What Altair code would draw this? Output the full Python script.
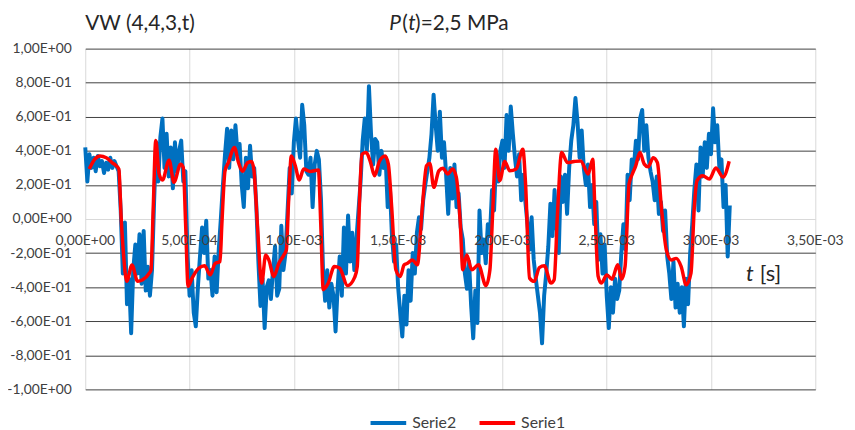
import altair as alt
import pandas as pd

# ---------------- data ----------------
# Serie1 (red): time in ms, value
T1_MS = [0.019, 0.045, 0.070, 0.101, 0.130, 0.149, 0.161, 0.172, 0.183, 0.199,
         0.224, 0.251, 0.275, 0.307, 0.315, 0.326, 0.338, 0.354, 0.370, 0.402,
         0.425, 0.457, 0.470, 0.481, 0.493, 0.512, 0.544, 0.572, 0.599, 0.623,
         0.646, 0.655, 0.670, 0.686, 0.715, 0.735, 0.754, 0.778, 0.798, 0.809,
         0.825, 0.846, 0.865, 0.880, 0.904, 0.928, 0.952, 0.964, 0.975, 0.988,
         1.007, 1.026, 1.047, 1.078, 1.118, 1.129, 1.141, 1.165, 1.194, 1.220,
         1.257, 1.292, 1.304, 1.315, 1.326, 1.347, 1.368, 1.387, 1.410, 1.437,
         1.453, 1.469, 1.489, 1.510, 1.529, 1.545, 1.568, 1.592, 1.616, 1.636,
         1.652, 1.671, 1.695, 1.715, 1.738, 1.761, 1.779, 1.798, 1.810, 1.829,
         1.853, 1.885, 1.921, 1.940, 1.953, 1.968, 1.987, 2.011, 2.035, 2.066,
         2.098, 2.111, 2.130, 2.153, 2.177, 2.201, 2.233, 2.248, 2.264, 2.284,
         2.312, 2.343, 2.375, 2.411, 2.433, 2.443, 2.459, 2.474, 2.501, 2.525,
         2.553, 2.572, 2.588, 2.607, 2.623, 2.639, 2.659, 2.680, 2.699, 2.723,
         2.743, 2.762, 2.786, 2.810, 2.833, 2.857, 2.881, 2.904, 2.920, 2.933,
         2.960, 2.992, 3.023, 3.058, 3.087]
V1 = [0.293, 0.350, 0.370, 0.360, 0.330, 0.312, 0.293, 0.010, -0.200, -0.366,
      -0.270, -0.366, -0.357, -0.318, -0.300, 0.070, 0.461, 0.264, 0.229, 0.345,
      0.215, 0.322, 0.302, -0.027, -0.395, -0.347, -0.289, -0.275, -0.328, -0.260,
      -0.250, -0.027, 0.283, 0.331, 0.420, 0.330, 0.280, 0.330, 0.337, 0.283,
      -0.027, -0.376, -0.211, -0.240, -0.337, -0.260, -0.211, -0.182, 0.109, 0.370,
      0.312, 0.229, 0.293, 0.279, 0.287, -0.027, -0.415, -0.376, -0.279, -0.289,
      -0.391, -0.341, -0.279, 0.109, 0.380, 0.390, 0.331, 0.254, 0.337, 0.370,
      0.322, 0.070, -0.298, -0.337, -0.269, -0.260, -0.240, -0.269, 0.070, 0.312,
      0.326, 0.186, 0.283, 0.298, 0.264, 0.293, 0.244, -0.027, -0.298, -0.211,
      -0.298, -0.269, -0.391, -0.298, 0.031, 0.409, 0.225, 0.337, 0.283, 0.293,
      0.409, 0.205, -0.347, -0.366, -0.285, -0.275, -0.376, -0.357, 0.031, 0.390,
      0.331, 0.337, 0.341, 0.264, 0.351, 0.070, -0.337, -0.376, -0.328, -0.353,
      -0.269, -0.353, -0.279, 0.205, 0.264, 0.312, 0.390, 0.322, 0.306, 0.360,
      0.331, 0.070, -0.182, -0.240, -0.231, -0.279, -0.386, -0.318, 0.070, 0.225,
      0.254, 0.234, 0.300, 0.246, 0.339]

# Serie2 (blue): sampled every 0.01 ms from t = 0
V2 = [
    0.42, 0.22, 0.38, 0.30, 0.36, 0.28, 0.37, 0.31, 0.34, 0.27,
    0.33, 0.29, 0.36, 0.30, 0.34, 0.31, 0.28, 0.05, -0.32, -0.02,
    -0.50, -0.35, -0.67, -0.30, -0.15, -0.32, -0.09, -0.38, -0.07, -0.42,
    -0.28, -0.45, -0.30, 0.10, 0.45, 0.22, 0.48, 0.59, 0.30, 0.50,
    0.25, 0.42, 0.18, 0.45, 0.28, 0.40, 0.46, 0.22, 0.28, -0.20,
    -0.45, -0.30, -0.55, -0.63, -0.40, -0.22, -0.05, -0.20, -0.01, -0.35,
    -0.30, -0.45, -0.22, -0.43, -0.18, 0.00, 0.20, 0.38, 0.53, 0.30,
    0.52, 0.35, 0.55, 0.38, 0.44, 0.20, 0.07, 0.36, 0.18, 0.43,
    0.25, 0.30, 0.08, -0.25, -0.51, -0.35, -0.64, -0.40, -0.36, -0.47,
    -0.30, -0.16, -0.45, -0.41, -0.04, -0.30, -0.20, 0.05, 0.30, 0.15,
    0.45, 0.59, 0.46, 0.36, 0.67, 0.55, 0.28, 0.26, 0.36, 0.07,
    0.32, 0.40, 0.35, 0.12, -0.30, -0.48, -0.30, -0.52, -0.38, -0.45,
    -0.66, -0.40, -0.22, -0.45, -0.05, -0.32, 0.02, -0.25, -0.08, -0.30,
    -0.12, 0.05, 0.22, 0.46, 0.59, 0.40, 0.78, 0.50, 0.32, 0.47,
    0.45, 0.26, 0.40, 0.30, 0.36, 0.07, 0.20, -0.09, -0.25, -0.15,
    -0.40, -0.55, -0.69, -0.45, -0.62, -0.30, -0.48, -0.20, -0.32, -0.08,
    0.01, -0.06, 0.11, 0.20, 0.28, 0.36, 0.50, 0.73, 0.55, 0.40,
    0.63, 0.36, 0.45, 0.26, 0.03, 0.30, 0.12, 0.32, 0.07, 0.15,
    -0.05, -0.12, -0.32, -0.41, -0.25, -0.51, -0.70, -0.42, -0.61, 0.05,
    -0.20, -0.12, -0.26, -0.03, -0.10, 0.17, 0.05, 0.36, 0.22, 0.40,
    0.46, 0.30, 0.61, 0.40, 0.66, 0.50, 0.36, 0.25, 0.38, 0.11,
    0.26, 0.10, -0.03, -0.18, 0.01, -0.24, -0.35, -0.45, -0.55, -0.73,
    -0.45, -0.32, -0.16, 0.09, -0.10, 0.17, -0.05, -0.20, 0.25, 0.10,
    0.26, 0.03, 0.30, 0.46, 0.55, 0.71, 0.57, 0.36, 0.52, 0.30,
    0.20, 0.32, 0.07, 0.20, -0.03, 0.10, -0.24, -0.09, -0.32, -0.15,
    -0.45, -0.64, -0.40, -0.55, -0.35, -0.47, -0.42, -0.20, -0.03, -0.18,
    0.26, 0.11, 0.35, 0.30, 0.46, 0.35, 0.59, 0.64, 0.40, 0.55,
    0.36, 0.28, 0.22, 0.11, 0.25, 0.03, 0.10, -0.07, 0.05, -0.22,
    -0.32, -0.47, -0.25, -0.52, -0.38, -0.55, -0.40, -0.63, -0.35, -0.50,
    -0.20, -0.03, 0.17, 0.32, 0.05, 0.42, 0.25, 0.45, 0.30, 0.50,
    0.38, 0.65, 0.45, 0.55, 0.30, 0.35, 0.07, 0.20, -0.22, 0.08,
]
T2 = [round(i * 1e-5, 7) for i in range(len(V2))]
T1 = [round(t * 1e-3, 7) for t in T1_MS]

X_TICKS = [0, 0.0005, 0.001, 0.0015, 0.002, 0.0025, 0.003, 0.0035]
X_LABELS = ["0,00E+00", "5,00E-04", "1,00E-03", "1,50E-03",
            "2,00E-03", "2,50E-03", "3,00E-03", "3,50E-03"]
Y_TICKS = [-1, -0.8, -0.6, -0.4, -0.2, 0, 0.2, 0.4, 0.6, 0.8, 1]

SERIES = ["Serie2", "Serie1"]
COLORS = ["#0070C0", "#FF0000"]

df2 = pd.DataFrame({"t": T2, "v": V2, "s": "Serie2"})
df1 = pd.DataFrame({"t": T1, "v": V1, "s": "Serie1"})
dflab = pd.DataFrame({"t": X_TICKS, "v": [0] * len(X_TICKS), "lab": X_LABELS})

FONT = "Lato"
TXT = "#404040"

y_label_expr = ("abs(datum.value) < 1e-9 ? '0,00E+00' : "
                "(datum.value < 0 ? '-' : '') + "
                "(abs(datum.value) > 0.999 ? '1,00E+00' : "
                "replace(format(abs(datum.value) * 10, '.2f'), '.', ',') + 'E-01')")

X = alt.X("t:Q", scale=alt.Scale(domain=[0, 0.0035], nice=False, zero=False),
          axis=alt.Axis(values=X_TICKS, grid=True, gridColor="#d9d9d9", gridWidth=1,
                        labels=False, ticks=False, domain=False, title=None))
Y = alt.Y("v:Q", scale=alt.Scale(domain=[-1, 1], nice=False),
          axis=alt.Axis(values=Y_TICKS, grid=True,
                        gridColor={"condition": {"test": "abs(datum.value) < 1e-9", "value": "#d9d9d9"},
                                   "value": "#404040"},
                        gridWidth=1, ticks=False, domain=False, title=None,
                        labelExpr=y_label_expr, labelFont=FONT, labelFontSize=14,
                        labelColor=TXT, labelPadding=14))
C = alt.Color("s:N", scale=alt.Scale(domain=SERIES, range=COLORS),
              legend=alt.Legend(title=None, orient="none", legendX=286, legendY=358,
                                direction="horizontal", symbolType="stroke",
                                symbolStrokeWidth=4, symbolSize=1296,
                                labelFont=FONT, labelFontSize=16, labelColor=TXT,
                                labelOffset=4, columnPadding=15, padding=0))

blue = alt.Chart(df2).mark_line(strokeWidth=4, strokeJoin="round").encode(x=X, y=Y, color=C)
red = alt.Chart(df1).mark_line(strokeWidth=3.5, strokeJoin="round", interpolate="monotone").encode(x=X, y=Y, color=C)
xlabels = alt.Chart(dflab).mark_text(font=FONT, fontSize=14, color=TXT, dy=22).encode(
    x=X, y=Y, text="lab:N")

def txt(s, x, y, size=21, italic=False, align="left"):
    return alt.Chart(pd.DataFrame({"a": [0]})).mark_text(
        text=s, font=FONT, fontSize=size, color="#262626", align=align,
        baseline="alphabetic", fontStyle="italic" if italic else "normal").encode(
        x=alt.value(x), y=alt.value(y))

titles = [
    txt("VW (4,4,3,t)", 0, -19),
    txt("P", 307, -19, italic=True),
    txt("(", 320, -19),
    txt("t", 326, -19, italic=True),
    txt(")=2,5 MPa", 333, -19),
    txt("t", 667, 235, size=22, italic=True),
    txt("[s]", 681, 235, size=22),
]

chart = alt.layer(blue, red, xlabels, *titles).properties(
    width=737, height=344,
    autosize=alt.AutoSizeParams(type="none"),
    padding={"left": 78, "top": 39, "right": 32, "bottom": 40},
).configure_view(strokeWidth=0)

chart.save("out.html", embed_options={"renderer": "svg", "actions": False})
